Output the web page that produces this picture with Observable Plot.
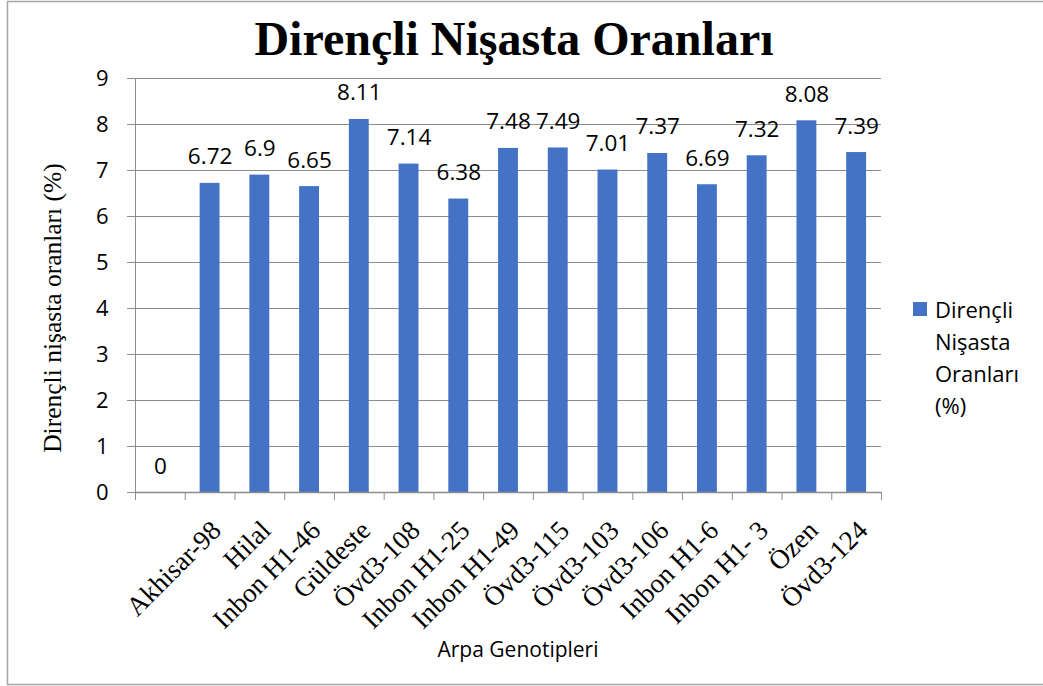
<!DOCTYPE html>
<html>
<head>
<meta charset="utf-8">
<script src="https://cdn.jsdelivr.net/npm/d3@7"></script>
<script src="https://cdn.jsdelivr.net/npm/@observablehq/plot@0.6"></script>
<style>
  html, body { margin: 0; padding: 0; background: #fff; }
  svg { display: block; overflow: visible; }
</style>
</head>
<body>
<div id="chart"></div>
<script>
// Category tick labels (the first band carries no label in the original chart)
const categories = ["", "Akhisar-98", "Hilal", "Inbon H1-46", "Güldeste", "Övd3-108", "Inbon H1-25",
  "Inbon H1-49", "Övd3-115", "Övd3-103", "Övd3-106", "Inbon H1-6", "Inbon H1- 3", "Özen", "Övd3-124"];
// Series values (%)
const values = [0, 6.72, 6.9, 6.65, 8.11, 7.14, 6.38, 7.48, 7.49, 7.01, 7.37, 6.69, 7.32, 8.08, 7.39];
const yTicks = [0, 1, 2, 3, 4, 5, 6, 7, 8, 9];
const titleText = "Dirençli Nişasta Oranları";
const yLabelText = "Dirençli nişasta oranları (%)";
const xLabelText = "Arpa Genotipleri";
const legendLines = ["Dirençli", "Nişasta", "Oranları", "(%)"];

const data = values.map((v, i) => ({i, v, label: categories[i]}));
const n = values.length;

const sans = "'Open Sans', sans-serif";
const serif = "'Liberation Serif', 'Times New Roman', serif";
const gray = "#8c8c8c";

const chart = Plot.plot({
  width: 1043,
  height: 686,
  marginLeft: 135,
  marginRight: 162,
  marginTop: 78,
  marginBottom: 194,
  style: {background: "transparent", color: "black"},
  x: {domain: [0, n], axis: null},
  y: {domain: [0, 9], axis: null},
  marks: [
    Plot.gridY(yTicks, {stroke: gray, strokeOpacity: 1}),
    Plot.axisY(yTicks, {tickSize: 8, tickPadding: 19, fontSize: 22, fontFamily: sans,
      stroke: gray, fill: "black", tickFormat: d => String(d), label: null}),
    Plot.rectY(data, {x1: d => d.i + 0.3, x2: d => d.i + 0.7, y: "v", fill: "#4472C4"}),
    Plot.ruleX([0], {stroke: gray}),
    Plot.ruleY([0], {stroke: gray, strokeWidth: 1.5}),
    Plot.axisX(d3.range(n + 1), {tickSize: 8, tickFormat: () => "", stroke: gray, label: null}),
    Plot.text(data, {x: d => d.i + 0.5, y: "v", text: d => String(d.v), lineAnchor: "bottom",
      dy: -19, fontSize: 22.5, fontFamily: sans, fill: "black"}),
    Plot.text(data.filter(d => d.label), {x: d => d.i + 0.5, y: 0, text: "label", rotate: -45,
      textAnchor: "end", lineAnchor: "top", dx: -1, dy: 26, fontSize: 27, fontFamily: serif, fill: "black"})
  ]
});

const svg = d3.select(chart);
// outer border
svg.insert("rect", ":first-child")
  .attr("x", 7.5).attr("y", 1.5).attr("width", 1045).attr("height", 683)
  .attr("fill", "white").attr("stroke", "#a6a6a6").attr("stroke-width", 1.5);

svg.append("text").text(titleText)
  .attr("x", 514).attr("y", 55).attr("text-anchor", "middle")
  .attr("font-family", serif).attr("font-weight", "bold").attr("font-size", 48).attr("fill", "black");

svg.append("text").text(yLabelText)
  .attr("transform", "translate(61,308) rotate(-90)").attr("text-anchor", "middle")
  .attr("font-family", serif).attr("font-size", 25.5).attr("fill", "black");

svg.append("text").text(xLabelText)
  .attr("x", 518).attr("y", 657).attr("text-anchor", "middle")
  .attr("font-family", sans).attr("font-size", 21).attr("fill", "black");

svg.append("rect").attr("x", 913).attr("y", 302).attr("width", 14).attr("height", 14).attr("fill", "#4472C4");
const lg = svg.append("text").attr("font-family", sans).attr("font-size", 22)
  .attr("text-anchor", "start").attr("fill", "black");
legendLines.forEach((t, k) => {
  lg.append("tspan").attr("x", 935).attr("y", 318 + k * 32).text(t);
});

document.getElementById("chart").appendChild(chart);
</script>
</body>
</html>
